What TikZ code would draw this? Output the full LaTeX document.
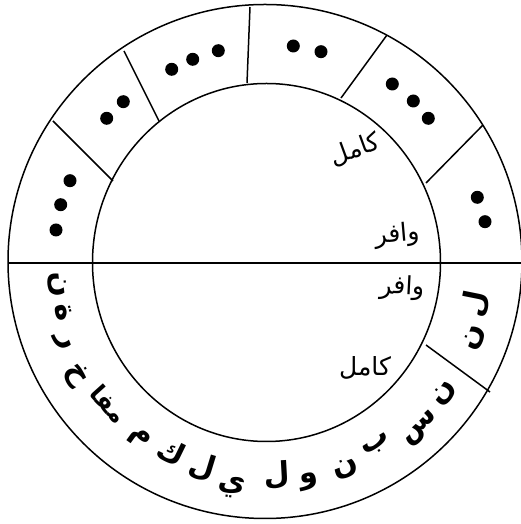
\documentclass[tikz,border=0pt]{standalone}
\usepackage{fontspec}
\newfontfamily\arabicfont[Script=Arabic]{DejaVu Sans}
\TeXXeTstate=1
\begin{document}
\begin{tikzpicture}[x=1pt,y=1pt,line width=1.5pt,
  dot/.style={fill=black,circle,inner sep=0pt,minimum size=13pt,draw=none},
  ringl/.style={font=\arabicfont\bfseries\fontsize{30}{30}\selectfont,inner sep=0pt},
  ringsm/.style={font=\arabicfont\bfseries\fontsize{24}{24}\selectfont,inner sep=0pt},
  lab/.style={font=\arabicfont\fontsize{25}{25}\selectfont,inner sep=0pt}]
\useasboundingbox (0,0) rectangle (521,524);
\coordinate (O) at (265,262.5);
\coordinate (I) at (266.5,261.5);
\draw (O) circle (257);
\draw (I) ellipse (174 and 179);
% diameter
\coordinate (hl) at (8,261);
\coordinate (hr) at (523,261);
\draw (hl) -- (hr);
% radial dividers
\coordinate (a1) at (250,517); \coordinate (b1) at (247,441);
\coordinate (a2) at (387,489); \coordinate (b2) at (341,426);
\coordinate (a3) at (483,399); \coordinate (b3) at (426,341);
\coordinate (a4) at (53,403);  \coordinate (b4) at (113,343);
\coordinate (a5) at (124,473); \coordinate (b5) at (159,403);
\coordinate (a6) at (490,132); \coordinate (b6) at (426,179);
\foreach \i in {1,...,6} \draw (a\i) -- (b\i);
% dots
\node[dot] (d1) at (477.3,326.7) {};
\node[dot] (d2) at (485,302.3) {};
\node[dot] (d3) at (392.3,440) {};
\node[dot] (d4) at (413.3,423) {};
\node[dot] (d5) at (428.3,405.7) {};
\node[dot] (d6) at (293.3,478) {};
\node[dot] (d7) at (321,472.3) {};
\node[dot] (d8) at (171.7,454.7) {};
\node[dot] (d9) at (192.7,464.7) {};
\node[dot] (d10) at (218.3,473.3) {};
\node[dot] (d11) at (106.7,405.7) {};
\node[dot] (d12) at (123.3,422.3) {};
\node[dot] (d13) at (70,343.3) {};
\node[dot] (d14) at (60.7,319.3) {};
\node[dot] (d15) at (56,294) {};
% inner labels
\node[lab,rotate=20] (k1) at (355,374) {\beginR كامل\endR};
\node[lab,rotate=5] (w1) at (397,289) {\beginR وافر\endR};
\node[lab,rotate=-3] (w2) at (402,236) {\beginR وافر\endR};
\node[lab] (k2) at (365,156) {\beginR كامل\endR};
% ring letters
\node[ringl,rotate=78.6] (r1) at (476,220) {ل};
\node[ringl,rotate=70] (r2) at (475,186) {ن};
\node[ringl,rotate=53.6] (r3) at (445,130) {ن};
\node[ringl,rotate=43] (r4) at (421,95) {س};
\node[ringl,rotate=31.4] (r5) at (377,79) {ب};
\node[ringl,rotate=21.3] (r6) at (346,55) {ن};
\node[ringl,rotate=11.3] (r7) at (309,42) {و};
\node[ringl,rotate=3.2] (r8) at (277,49) {ل};
\node[ringl,rotate=-8.3] (r9) at (232,37) {ي};
\node[ringl,rotate=-17] (r10) at (202,57) {ل};
\node[ringl,rotate=-26] (r11) at (172,72) {ك};
\node[ringl,rotate=-36] (r12) at (139,86) {م};
\node[ringsm,rotate=-48] (r13) at (109,120) {\beginR مفا\endR};
\node[ringl,rotate=-58.4] (r14) at (76,149) {خ};
\node[ringl,rotate=-68.4] (r15) at (62,182) {ر};
\node[ringl,rotate=-75.9] (r16) at (64,212) {ة};
\node[ringl,rotate=-83.6] (r17) at (57,239) {ن};
\end{tikzpicture}
\end{document}
